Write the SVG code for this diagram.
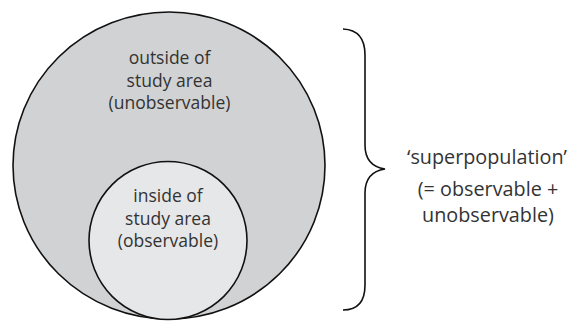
<svg xmlns="http://www.w3.org/2000/svg" width="575" height="322" viewBox="0 0 575 322">
<style>
.t{font-family:"Open Sans","Liberation Sans",sans-serif;font-size:17.5px;fill:#333;text-anchor:middle}
.r{font-size:19.8px}
.c{stroke:#111;stroke-width:1.6}
</style>
<rect width="575" height="322" fill="#fff"/>
<g id="outer">
<ellipse class="c" cx="169" cy="165.5" rx="156" ry="153.5" fill="#d1d2d4"/>
<text class="t" x="169.5" y="64">outside of</text>
<text class="t" x="169.5" y="87">study area</text>
<text class="t" x="169.5" y="109">(unobservable)</text>
</g>
<g id="inner">
<circle class="c" cx="168" cy="240.5" r="79" fill="#e6e7e8"/>
<text class="t" x="168" y="202">inside of</text>
<text class="t" x="168" y="225">study area</text>
<text class="t" x="168" y="247">(observable)</text>
</g>
<g id="connectors">
<path d="M343,29 Q365,30 365,55 L365,145 Q365,166 385,169 Q365,172 365,193 L365,285 Q365,310 343,310" fill="none" stroke="#111" stroke-width="1.6"/>
</g>
<g id="label">
<text class="t r" x="487" y="164">‘superpopulation’</text>
<text class="t r" x="488" y="196">(= observable +</text>
<text class="t r" x="488" y="222">unobservable)</text>
</g>
</svg>
